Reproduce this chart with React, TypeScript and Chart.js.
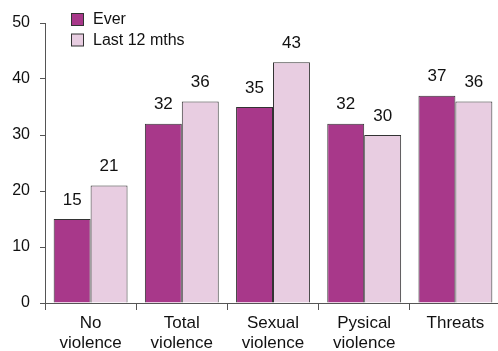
import React, { useEffect, useRef } from "react";
import { Chart, registerables } from "chart.js";

Chart.register(...registerables);

const categories: string[][] = [
  ["No", "violence"],
  ["Total", "violence"],
  ["Sexual", "violence"],
  ["Pysical", "violence"],
  ["Threats"],
];
const everValues = [15, 32, 35, 32, 37];
const last12Values = [21, 36, 43, 30, 36];
const seriesNames = ["Ever", "Last 12 mths"];
const yTicks = [0, 10, 20, 30, 40, 50];

const FONT = '"Liberation Sans", Arial, sans-serif';

const valueLabels = {
  id: "valueLabels",
  afterDatasetsDraw(chart: any) {
    const ctx = chart.ctx;
    ctx.save();
    ctx.font = `17px ${FONT}`;
    ctx.fillStyle = "#111";
    ctx.textAlign = "center";
    ctx.textBaseline = "middle";
    chart.data.datasets.forEach((ds: any, i: number) => {
      const meta = chart.getDatasetMeta(i);
      meta.data.forEach((bar: any, j: number) => {
        ctx.fillText(String(ds.data[j]), bar.x, bar.y - 19);
      });
    });
    ctx.restore();
  },
};

const innerLegend = {
  id: "innerLegend",
  afterDraw(chart: any) {
    const ctx = chart.ctx;
    ctx.save();
    ctx.font = `16px ${FONT}`;
    ctx.textBaseline = "middle";
    chart.data.datasets.forEach((ds: any, i: number) => {
      const x = 71.5;
      const y = 13.5 + i * 20.5;
      ctx.fillStyle = ds.backgroundColor;
      ctx.fillRect(x, y, 12, 12);
      ctx.strokeStyle = "#333";
      ctx.lineWidth = 1;
      ctx.strokeRect(x, y, 12, 12);
      ctx.fillStyle = "#111";
      ctx.fillText(ds.label, 93, y + 6.5);
    });
    ctx.restore();
  },
};

export default function App() {
  const ref = useRef<HTMLCanvasElement>(null);
  useEffect(() => {
    if (!ref.current) return;
    const chart = new Chart(ref.current, {
      type: "bar",
      data: {
        labels: categories,
        datasets: [
          {
            label: seriesNames[0],
            data: everValues,
            backgroundColor: "#A8388A",
            borderColor: "#333",
            borderWidth: 1,
          },
          {
            label: seriesNames[1],
            data: last12Values,
            backgroundColor: "#E8CDE1",
            borderColor: "#333",
            borderWidth: 1,
          },
        ],
      },
      options: {
        responsive: false,
        animation: false,
        devicePixelRatio: 1,
        layout: { padding: { top: 23, right: 3, left: 0, bottom: 0 } },
        plugins: {
          legend: { display: false },
          tooltip: { enabled: false },
        },
        datasets: {
          bar: { categoryPercentage: 0.81, barPercentage: 1 },
        },
        scales: {
          x: {
            offset: true,
            grid: {
              offset: true,
              drawOnChartArea: false,
              drawTicks: true,
              tickLength: 7,
              color: "#555",
            },
            border: { display: true, color: "#555", width: 1 },
            ticks: {
              font: { family: FONT, size: 17 },
              color: "#111",
              padding: 3,
              maxRotation: 0,
              autoSkip: false,
            },
            afterFit(scale: any) {
              scale.height = 48;
            },
          },
          y: {
            min: 0,
            max: 50,
            afterBuildTicks(scale: any) {
              scale.ticks = yTicks.map((v) => ({ value: v }));
            },
            grid: {
              drawOnChartArea: false,
              drawTicks: true,
              tickLength: 5,
              color: "#555",
            },
            border: { display: true, color: "#555", width: 1 },
            ticks: {
              font: { family: FONT, size: 16 },
              color: "#111",
              padding: 10,
            },
            afterFit(scale: any) {
              scale.width = 45;
            },
          },
        },
      },
      plugins: [valueLabels, innerLegend],
    });
    return () => chart.destroy();
  }, []);
  return (
    <div
      style={{
        position: "fixed",
        left: 0,
        top: 0,
        width: 498,
        height: 351,
        overflow: "hidden",
        background: "#fff",
      }}
    >
      <canvas ref={ref} width={504} height={351} style={{ width: 504, height: 351 }} />
    </div>
  );
}
